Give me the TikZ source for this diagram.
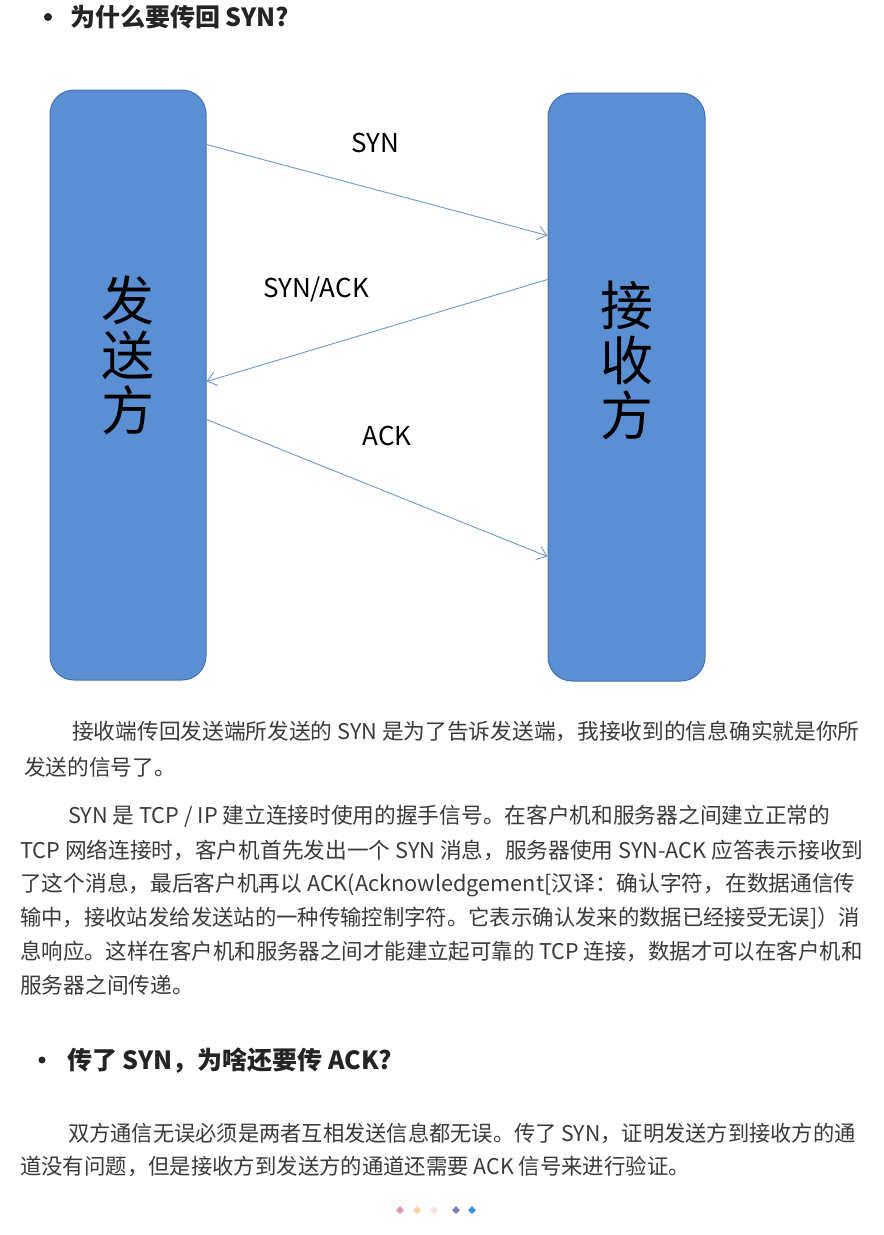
\documentclass[tikz,border=0pt]{standalone}
\usepackage{graphicx}
\usepackage{fontspec}
\setmainfont{Noto Sans CJK SC}
\usetikzlibrary{arrows.meta}

\definecolor{boxblue}{RGB}{91,143,212}
\definecolor{boxedge}{RGB}{68,114,176}
\definecolor{msgline}{RGB}{112,152,198}
\definecolor{bodygrey}{RGB}{58,58,58}
\definecolor{headgrey}{RGB}{36,36,36}

\tikzset{
  party/.style={draw=boxedge, fill=boxblue, rounded corners=24pt, line width=1pt,
    minimum width=156pt, minimum height=590pt},
  partylbl/.style={align=center, text=black, font=\fontsize{53}{55}\selectfont},
  msg/.style={draw=msgline, line width=0.9pt, -{Straight Barb[length=9pt,width=14pt]}},
  msglbl/.style={text=black, font=\fontsize{26}{30}\selectfont},
  headline/.style={anchor=base west, inner sep=0pt, text=headgrey, font=\fontsize{25}{28}\selectfont\bfseries},
  bodyline/.style={anchor=base west, inner sep=0pt, text=bodygrey, font=\fontsize{21.7}{30}\selectfont},
}

\begin{document}
\begin{tikzpicture}[x=1pt, y=-1pt]

    \useasboundingbox (0, 0) rectangle (884, 1235);
    \fill[white] (0, 0) rectangle (884, 1235);

    % first heading
    \fill[headgrey] (48, 17) circle (4);
    \node[headline] (head1) at (70, 26) {为什么要传回 SYN?};

    % the two parties
    \node[party] (send) at (128, 385) {};
    \node[party, minimum width=157pt, minimum height=588pt] (recv) at (626.5, 387) {};
    \node[partylbl] (sendlbl) at ([yshift=30pt]send.center) {发\\送\\方};
    \node[partylbl] (recvlbl) at ([yshift=27pt]recv.center) {接\\收\\方};

    % handshake
    \draw[msg] ([yshift=-55pt]send.north east) -- ([yshift=-143pt]recv.north west);
    \draw[msg] ([yshift=-187pt]recv.north west) -- ([yshift=-292pt]send.north east);
    \draw[msg] ([yshift=-330pt]send.north east) -- ([yshift=-464pt]recv.north west);

    \node[msglbl] (syn) at (375, 143) {SYN};
    \node[msglbl] (synack) at (316, 289) {SYN/ACK};
    \node[msglbl] (ack) at (387, 436) {ACK};

    % text under the picture
    \foreach \xpos/\ypos/\xs/\txt in {
        72/739/1/{接收端传回发送端所发送的 SYN 是为了告诉发送端，我接收到的信息确实就是你所},
        24/775/1/{发送的信号了。},
        68/823/1/{SYN 是 TCP / IP 建立连接时使用的握手信号。在客户机和服务器之间建立正常的},
        20/858/1/{TCP 网络连接时，客户机首先发出一个 SYN 消息，服务器使用 SYN-ACK 应答表示接收到},
        20/891/1/{了这个消息，最后客户机再以 ACK(Acknowledgement[汉译：确认字符，在数据通信传},
        20/925/0.984/{输中，接收站发给发送站的一种传输控制字符。它表示确认发来的数据已经接受无误]）消},
        20/959/0.988/{息响应。这样在客户机和服务器之间才能建立起可靠的 TCP 连接，数据才可以在客户机和},
        20/993/1/{服务器之间传递。},
        68/1141/0.979/{双方通信无误必须是两者互相发送信息都无误。传了 SYN，证明发送方到接收方的通},
        20/1174/0.985/{道没有问题，但是接收方到发送方的通道还需要 ACK 信号来进行验证。}}
        \node[bodyline] at (\xpos, \ypos) {\scalebox{\xs}[1]{\txt}};

    % second heading
    \fill[headgrey] (42, 1060) circle (3.5);
    \node[headline] (head2) at (67, 1069) {传了 SYN，为啥还要传 ACK?};

    % little marks at the end
    \foreach \xpos/\col in {400/{rgb,255:red,224;green,156;blue,172}, 417/{rgb,255:red,248;green,208;blue,168},
                            434/{rgb,255:red,251;green,226;blue,226}, 456/{rgb,255:red,124;green,132;blue,180},
                            472/{rgb,255:red,58;green,154;blue,216}}
        \fill[color=\col] (\xpos, 1206) -- (\xpos+4, 1210) -- (\xpos, 1214) -- (\xpos-4, 1210) -- cycle;

\end{tikzpicture}
\end{document}
